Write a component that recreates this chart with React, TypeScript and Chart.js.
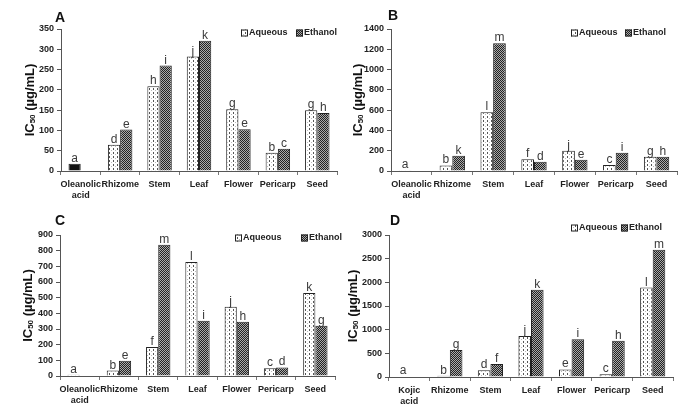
import React, { useEffect, useRef } from "react";
import { Chart, registerables } from "chart.js";
Chart.register(...registerables);

const catsOA = [["Oleanolic", "acid"], "Rhizome", "Stem", "Leaf", "Flower", "Pericarp", "Seed"];
const catsKA = [["Kojic", "acid"], "Rhizome", "Stem", "Leaf", "Flower", "Pericarp", "Seed"];

const aqA = [18, 65, 209, 282, 152, 45, 150];
const etA = [null, 102, 260, 321, 103, 55, 143];
const aqLA = ["a", "d", "h", "j", "g", "b", "g"];
const etLA = ["", "e", "i", "k", "e", "c", "h"];

const aqB = [8, 55, 580, 115, 200, 60, 140];
const etB = [null, 150, 1260, 90, 110, 180, 140];
const aqLB = ["a", "b", "l", "f", "j", "c", "g"];
const etLB = ["", "k", "m", "d", "e", "i", "h"];

const aqC = [8, 35, 185, 728, 442, 50, 530];
const etC = [null, 97, 838, 353, 347, 55, 320];
const aqLC = ["a", "b", "f", "l", "j", "c", "k"];
const etLC = ["", "e", "m", "i", "h", "d", "g"];

const aqD = [12, 25, 140, 865, 160, 60, 1890];
const etD = [null, 570, 275, 1845, 800, 765, 2690];
const aqLD = ["a", "b", "d", "j", "e", "c", "l"];
const etLD = ["", "g", "f", "k", "i", "h", "m"];

const FONT = "'Liberation Sans', Arial, sans-serif";

function makeAqPattern(ctx: CanvasRenderingContext2D) {
  const c = document.createElement("canvas");
  c.width = 4; c.height = 4;
  const g = c.getContext("2d")!;
  g.fillStyle = "#fff"; g.fillRect(0, 0, 4, 4);
  g.fillStyle = "#555";
  g.fillRect(1, 0, 1, 2);
  g.fillStyle = "#bbb";
  g.fillRect(3, 2, 1, 1);
  return ctx.createPattern(c, "repeat")!;
}
function makeEtPattern(ctx: CanvasRenderingContext2D) {
  const c = document.createElement("canvas");
  c.width = 2; c.height = 2;
  const g = c.getContext("2d")!;
  g.fillStyle = "#aaa"; g.fillRect(0, 0, 2, 2);
  g.fillStyle = "#222";
  g.fillRect(0, 0, 1, 1); g.fillRect(1, 1, 1, 1);
  return ctx.createPattern(c, "repeat")!;
}

type Cfg = {
  x: number; y: number; w: number; h: number;
  left: number; top: number; right: number; bottom: number;
  cats: any[]; aq: (number | null)[]; et: (number | null)[];
  aqL: string[]; etL: string[];
  max: number; step: number;
  firstBlack: boolean;
  panel: string; panelX: number; panelY: number;
  titleX: number;
  legAq: number; legEt: number; legY: number;
};

const panels: Cfg[] = [
  { x: 0, y: 0, w: 342, h: 205, left: 61, top: 29, right: 337, bottom: 171, cats: catsOA, aq: aqA, et: etA, aqL: aqLA, etL: etLA, max: 350, step: 50, firstBlack: true, panel: "A", panelX: 55, panelY: 17, titleX: 30, legAq: 241, legEt: 296, legY: 33 },
  { x: 342, y: 0, w: 343, h: 205, left: 49, top: 29, right: 335, bottom: 171, cats: catsOA, aq: aqB, et: etB, aqL: aqLB, etL: etLB, max: 1400, step: 200, firstBlack: false, panel: "B", panelX: 46, panelY: 15, titleX: 16, legAq: 229, legEt: 283, legY: 33 },
  { x: 0, y: 205, w: 342, h: 214, left: 60, top: 30, right: 335, bottom: 171, cats: catsOA, aq: aqC, et: etC, aqL: aqLC, etL: etLC, max: 900, step: 100, firstBlack: false, panel: "C", panelX: 55, panelY: 15, titleX: 28, legAq: 235, legEt: 301, legY: 33 },
  { x: 342, y: 205, w: 343, h: 214, left: 47, top: 30, right: 331, bottom: 172, cats: catsKA, aq: aqD, et: etD, aqL: aqLD, etL: etLD, max: 3000, step: 500, firstBlack: false, panel: "D", panelX: 48, panelY: 15, titleX: 11, legAq: 229, legEt: 279, legY: 23 },
];

function Panel({ cfg }: { cfg: Cfg }) {
  const ref = useRef<HTMLCanvasElement>(null);
  useEffect(() => {
    const canvas = ref.current!;
    const ctx = canvas.getContext("2d")!;
    const aqP = makeAqPattern(ctx);
    const etP = makeEtPattern(ctx);
    const aqBg = cfg.aq.map((_, i) => (i === 0 && cfg.firstBlack ? "#111" : aqP));

    const deco = {
      id: "deco",
      afterDatasetsDraw(chart: any) {
        const c = chart.ctx as CanvasRenderingContext2D;
        c.save();
        c.fillStyle = "#3a3a3a";
        c.font = `12px ${FONT}`;
        c.textAlign = "center";
        c.textBaseline = "alphabetic";
        [cfg.aqL, cfg.etL].forEach((labels, di) => {
          const meta = chart.getDatasetMeta(di);
          meta.data.forEach((el: any, i: number) => {
            const t = labels[i];
            if (!t) return;
            c.fillText(t, el.x, el.y - 2);
          });
        });
        c.fillStyle = "#111";
        c.font = `bold 14px ${FONT}`;
        c.textAlign = "left";
        c.fillText(cfg.panel, cfg.panelX, cfg.panelY + 5);
        const drawIcon = (x: number, pat: any) => {
          c.fillStyle = pat;
          c.fillRect(x, cfg.legY - 3.5, 7, 7);
          c.strokeStyle = "#222";
          c.lineWidth = 1;
          c.strokeRect(x + 0.5, cfg.legY - 3, 6, 6);
        };
        drawIcon(cfg.legAq, aqP);
        drawIcon(cfg.legEt, etP);
        c.fillStyle = "#222";
        c.font = `bold 9px ${FONT}`;
        c.textBaseline = "middle";
        c.fillText("Aqueous", cfg.legAq + 8, cfg.legY);
        c.fillText("Ethanol", cfg.legEt + 8, cfg.legY);
        const ca = chart.chartArea;
        const cy = (ca.top + ca.bottom) / 2;
        c.translate(cfg.titleX, cy);
        c.rotate(-Math.PI / 2);
        const big = `bold 13px ${FONT}`;
        const small = `bold 8px ${FONT}`;
        c.font = big;
        const w1 = c.measureText("IC").width;
        const w3 = c.measureText(" (µg/mL)").width;
        c.font = small;
        const w2 = c.measureText("50").width;
        let x0 = -(w1 + w2 + w3) / 2;
        c.textBaseline = "middle";
        c.fillStyle = "#111";
        c.font = big;
        c.fillText("IC", x0, 0);
        x0 += w1;
        c.font = small;
        c.fillText("50", x0, 3);
        x0 += w2;
        c.font = big;
        c.fillText(" (µg/mL)", x0, 0);
        c.restore();
      },
    };

    const chart = new Chart(ctx, {
      type: "bar",
      data: {
        labels: cfg.cats,
        datasets: [
          { label: "Aqueous", data: cfg.aq as any, backgroundColor: aqBg as any, borderColor: "#222", borderWidth: 1, borderSkipped: "bottom" as any, categoryPercentage: 0.62, barPercentage: 1 },
          { label: "Ethanol", data: cfg.et as any, backgroundColor: etP as any, borderColor: "#222", borderWidth: 1, borderSkipped: "bottom" as any, categoryPercentage: 0.62, barPercentage: 1 },
        ],
      },
      options: {
        responsive: false,
        animation: false,
        layout: { padding: { left: 0, top: cfg.top, right: cfg.w - cfg.right, bottom: 0 } },
        plugins: { legend: { display: false }, tooltip: { enabled: false } },
        scales: {
          x: {
            grid: { offset: true, drawOnChartArea: false, drawTicks: true, tickLength: 4, color: "#777" },
            border: { color: "#555" },
            ticks: { color: "#222", font: { family: FONT, size: 9, weight: "bold" }, padding: 4, maxRotation: 0, autoSkip: false },
            afterFit: (s: any) => { s.height = cfg.h - cfg.bottom; },
          },
          y: {
            min: 0, max: cfg.max,
            grid: { drawOnChartArea: false, drawTicks: true, tickLength: 4, color: "#555" },
            border: { color: "#555" },
            ticks: { stepSize: cfg.step, color: "#222", font: { family: FONT, size: 9, weight: "bold" }, padding: 3, callback: (v: any) => String(v) },
            afterFit: (s: any) => { s.width = cfg.left; },
          },
        },
      },
      plugins: [deco],
    });
    return () => chart.destroy();
  }, [cfg]);
  return (
    <div style={{ position: "absolute", left: cfg.x, top: cfg.y, width: cfg.w, height: cfg.h }}>
      <canvas ref={ref} width={cfg.w} height={cfg.h} style={{ width: cfg.w, height: cfg.h, display: "block" }} />
    </div>
  );
}

export default function App() {
  return (
    <div style={{ position: "absolute", left: 0, top: 0, width: 685, height: 419, background: "#fff" }}>
      {panels.map((p) => (
        <Panel key={p.panel} cfg={p} />
      ))}
    </div>
  );
}
